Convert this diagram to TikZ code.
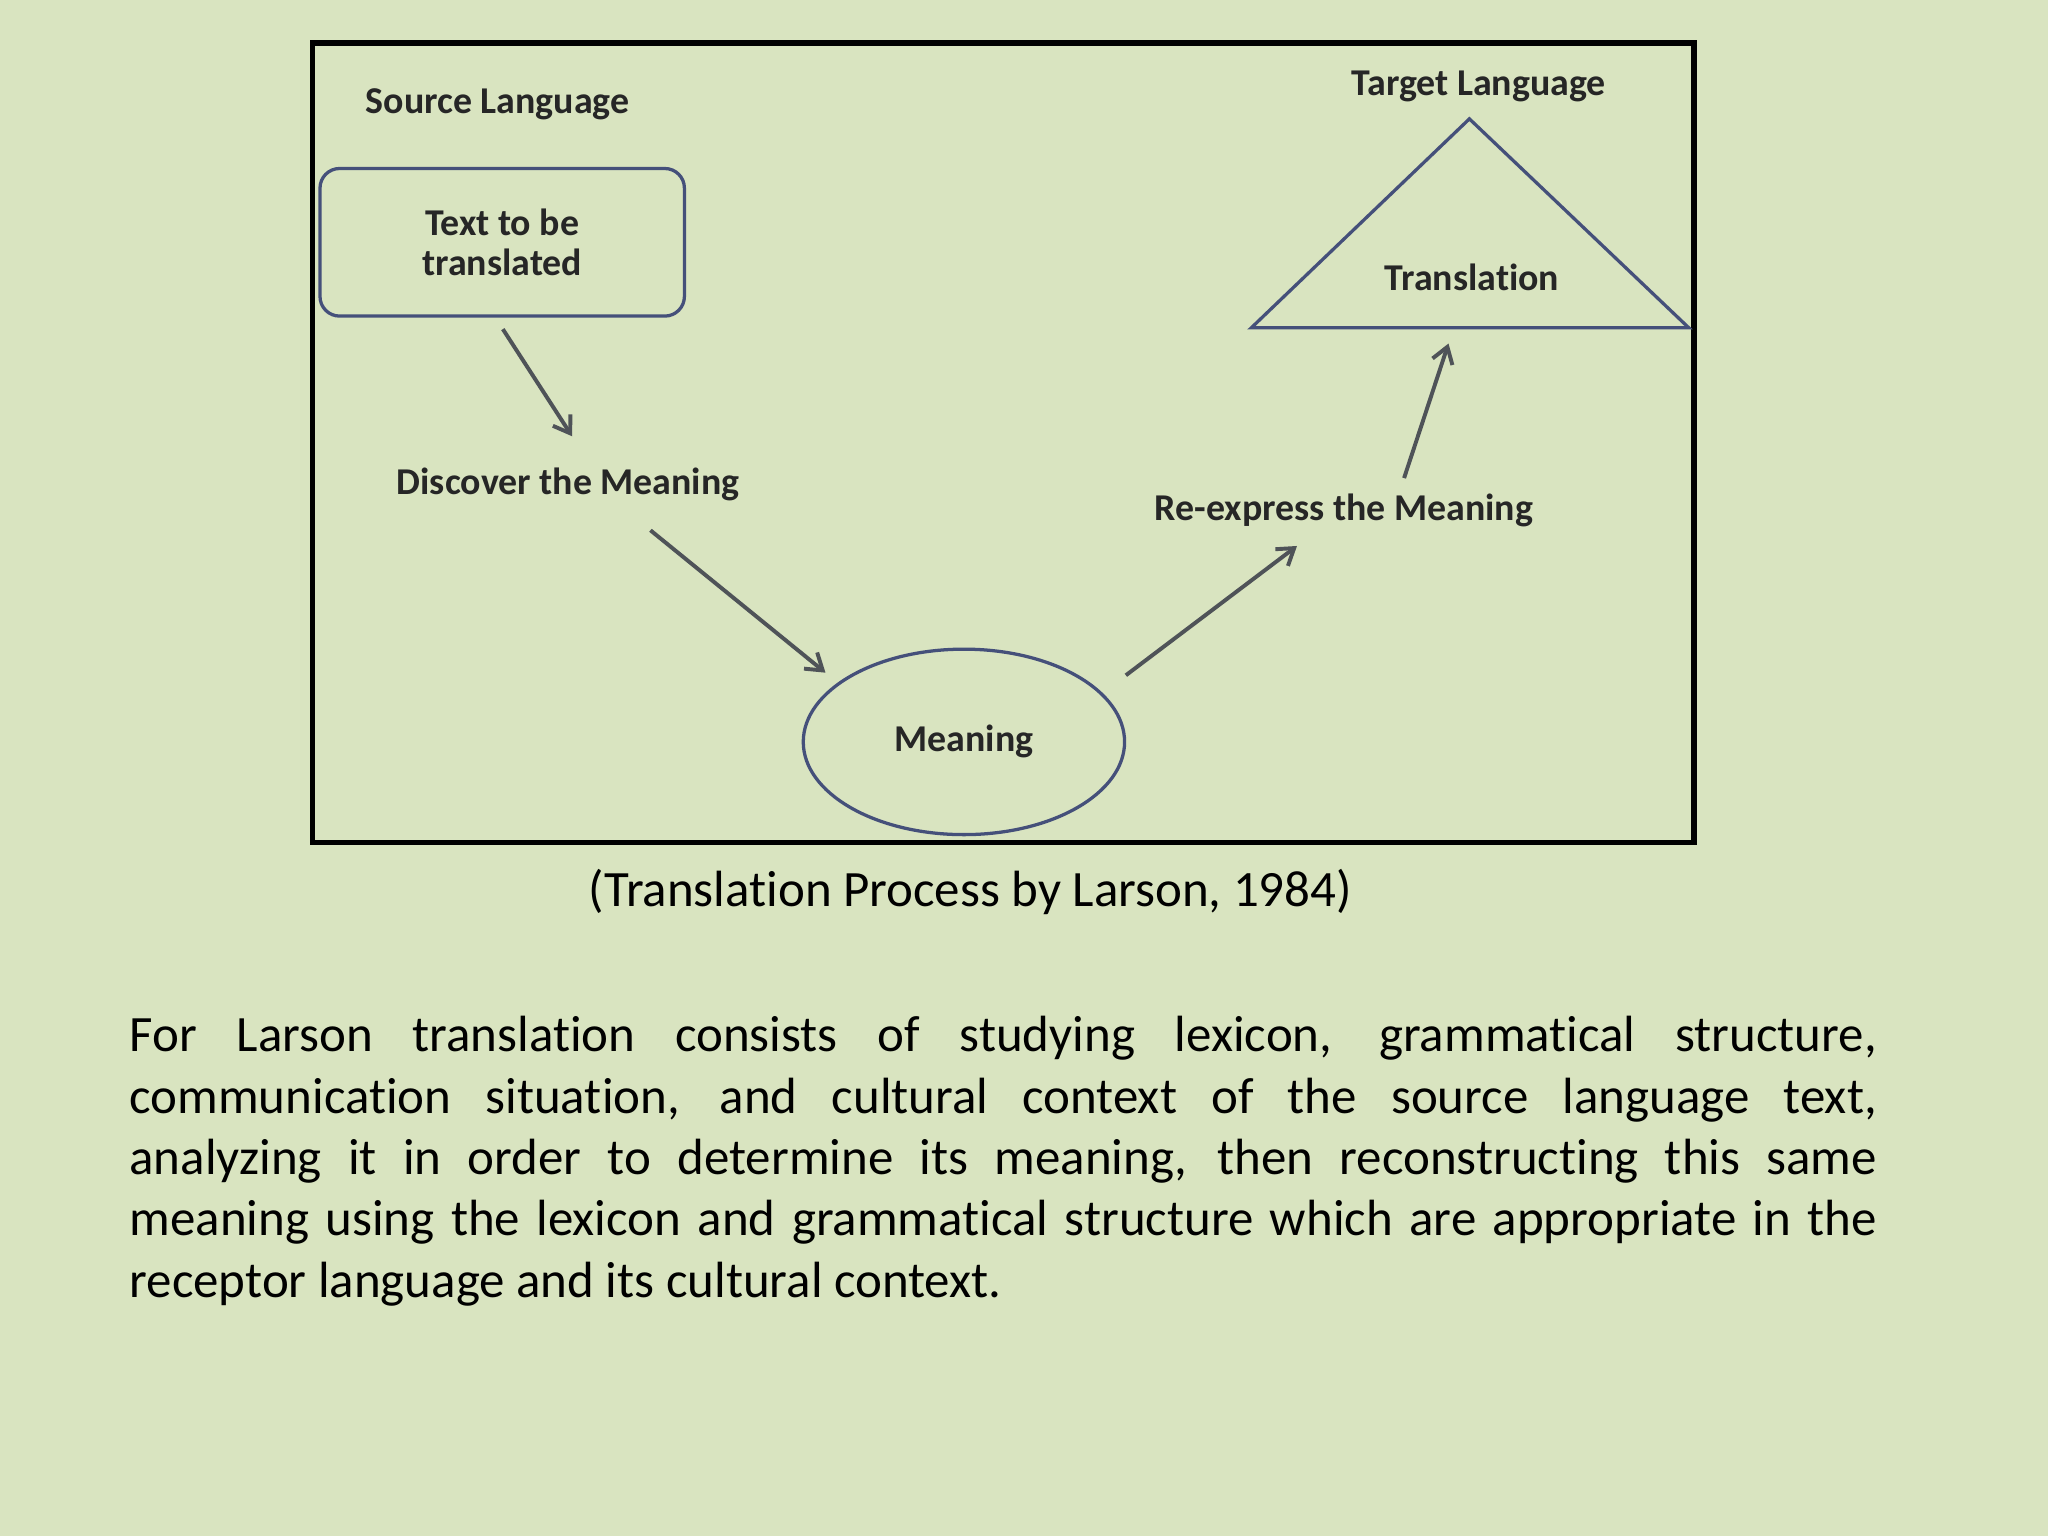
\documentclass[tikz,border=0pt]{standalone}
\usepackage{fontspec}
\setmainfont{Carlito}[Ligatures=NoCommon]
\usetikzlibrary{shapes.geometric,arrows.meta}
\definecolor{bg}{HTML}{D9E4C0}
\definecolor{edge}{HTML}{45507A}
\definecolor{arr}{HTML}{4F5358}
\tikzset{
  lbl/.style={font=\fontsize{29}{33}\selectfont\bfseries, text=black!85},
  conn/.style={draw=arr, line width=3pt, -{Straight Barb[length=12pt,width=16pt]}},
  shp/.style={draw=edge, line width=2.5pt}
}
\begin{document}
\begin{tikzpicture}[x=1pt,y=-1pt]
\fill[bg] (0,0) rectangle (1568,1176);
\useasboundingbox (0,0) rectangle (1568,1176);
\node[draw=black, line width=4pt, minimum width=1058pt, minimum height=612pt, inner sep=0pt] (frame) at (768,339) {};
\node[lbl] (src) at (381,80) {Source Language};
\node[shp, rounded corners=15pt, minimum width=279pt, minimum height=113pt, align=center, lbl] (text) at (384.5,185.5) {Text to be\\[-2pt]translated};
\node[lbl] (disc) at (435,371) {Discover the Meaning};
\node[shp, ellipse, minimum width=246pt, minimum height=142pt, lbl] (mean) at (738,568) {Meaning};
\node[lbl] (reex) at (1029,391) {Re-express the Meaning};
\draw[shp, line join=miter] (958,251) coordinate (t1) -- (1125,91) coordinate (t2) -- (1293,251) coordinate (t3) -- cycle;
\node[lbl] (trans) at (1127,212) {Translation};
\node[lbl] (tgt) at (1132,66) {Target Language};
\coordinate (a1s) at (385,252); \coordinate (a1e) at (438,334);
\coordinate (a2s) at (498,406); \coordinate (a2e) at (632,515);
\coordinate (a3s) at (862,517); \coordinate (a3e) at (993,418);
\coordinate (a4s) at (1075,366); \coordinate (a4e) at (1109,263);
\draw[conn] (a1s) -- (a1e);
\draw[conn] (a2s) -- (a2e);
\draw[conn] (a3s) -- (a3e);
\draw[conn] (a4s) -- (a4e);
\node[font=\fontsize{39}{44}\selectfont] (cap) at (743,683) {(Translation Process by Larson, 1984)};
\node[anchor=north west, text width=1338pt, align=justify, inner sep=0pt, font=\fontsize{39}{47}\selectfont] (body) at (99,778) {\hyphenpenalty=10000 For Larson translation consists of studying lexicon, grammatical structure,\linebreak communication situation, and cultural context of the source language text,\linebreak analyzing it in order to determine its meaning, then reconstructing this same\linebreak meaning using the lexicon and grammatical structure which are appropriate in the\linebreak receptor language and its cultural context.};
\end{tikzpicture}
\end{document}
